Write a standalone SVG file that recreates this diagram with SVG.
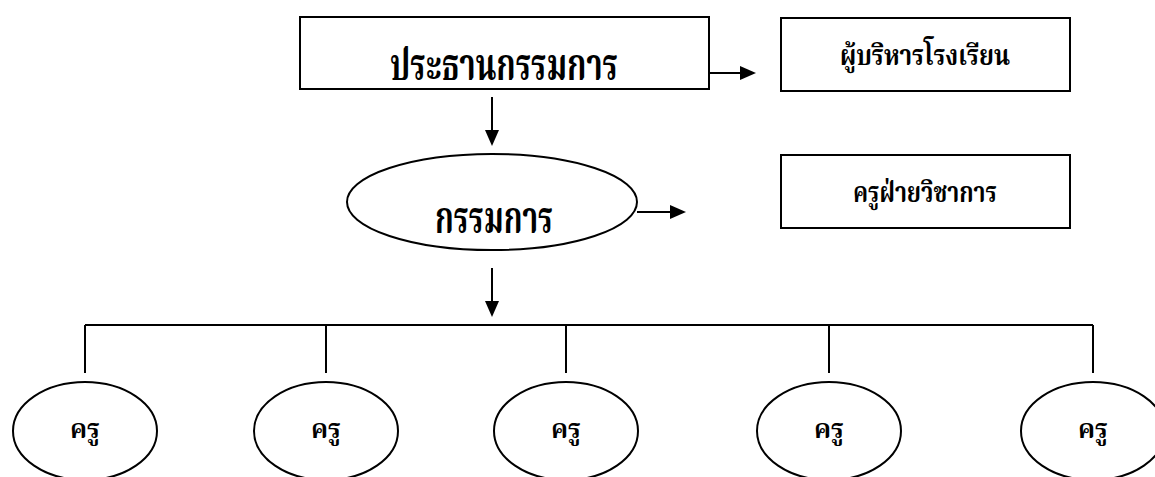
<svg xmlns="http://www.w3.org/2000/svg" width="1155" height="477" viewBox="0 0 1155 477">
<style>
.box{fill:#fff;stroke:#000;stroke-width:2}
.ell{fill:#fff;stroke:#000;stroke-width:2}
.ln{fill:none;stroke:#000;stroke-width:2}
.t{font-family:"Laksaman","Noto Serif Thai","Noto Sans Thai","Liberation Serif",serif;font-weight:bold;fill:#000;text-anchor:middle}
</style>
<defs>
<marker id="ah" viewBox="0 0 10 10" refX="10" refY="5" markerWidth="8" markerHeight="8" markerUnits="userSpaceOnUse" orient="auto">
<path d="M0,0 L10,5 L0,10 Z" fill="#000"/>
</marker>
</defs>
<rect width="1155" height="477" fill="#fff"/>
<g id="connectors">
<line class="ln" x1="709" y1="73" x2="740" y2="73"/>
<path d="M740,66 L756,73 L740,80 Z"/>
<line class="ln" x1="492" y1="97" x2="492" y2="130"/>
<path d="M485,130 L492,146 L499,130 Z"/>
<line class="ln" x1="637" y1="212" x2="670" y2="212"/>
<path d="M670,205 L686,212 L670,219 Z"/>
<line class="ln" x1="492" y1="268" x2="492" y2="301"/>
<path d="M485,301 L492,317 L499,301 Z"/>
<line class="ln" x1="85" y1="325" x2="1093" y2="325"/>
<line class="ln" x1="85" y1="325" x2="85" y2="373"/>
<line class="ln" x1="326" y1="325" x2="326" y2="373"/>
<line class="ln" x1="566" y1="325" x2="566" y2="373"/>
<line class="ln" x1="829" y1="325" x2="829" y2="373"/>
<line class="ln" x1="1093" y1="325" x2="1093" y2="373"/>
</g>
<g id="n-chair">
<rect class="box" x="300" y="17" width="409" height="72"/>
<text class="t" x="504" y="80" font-size="44" textLength="228" lengthAdjust="spacingAndGlyphs">ประธานกรรมการ</text>
</g>
<g id="n-admin">
<rect class="box" x="781" y="18" width="289" height="73"/>
<text class="t" x="925" y="65" font-size="28" textLength="170" lengthAdjust="spacingAndGlyphs">ผู้บริหารโรงเรียน</text>
</g>
<g id="n-committee">
<ellipse class="ell" cx="492" cy="202" rx="145" ry="48"/>
<text class="t" x="494" y="233" font-size="44" textLength="118" lengthAdjust="spacingAndGlyphs">กรรมการ</text>
</g>
<g id="n-academic">
<rect class="box" x="781" y="155" width="289" height="73"/>
<text class="t" x="925" y="202" font-size="28" textLength="144" lengthAdjust="spacingAndGlyphs">ครูฝ่ายวิชาการ</text>
</g>
<g id="n-t1">
<ellipse class="ell" cx="85" cy="431" rx="72" ry="49"/>
<text class="t" x="85" y="438" font-size="26" textLength="30" lengthAdjust="spacingAndGlyphs">ครู</text>
</g>
<g id="n-t2">
<ellipse class="ell" cx="326" cy="431" rx="72" ry="49"/>
<text class="t" x="326" y="438" font-size="26" textLength="30" lengthAdjust="spacingAndGlyphs">ครู</text>
</g>
<g id="n-t3">
<ellipse class="ell" cx="566" cy="431" rx="72" ry="49"/>
<text class="t" x="566" y="438" font-size="26" textLength="30" lengthAdjust="spacingAndGlyphs">ครู</text>
</g>
<g id="n-t4">
<ellipse class="ell" cx="829" cy="431" rx="72" ry="49"/>
<text class="t" x="829" y="438" font-size="26" textLength="30" lengthAdjust="spacingAndGlyphs">ครู</text>
</g>
<g id="n-t5">
<ellipse class="ell" cx="1093" cy="431" rx="72" ry="49"/>
<text class="t" x="1093" y="438" font-size="26" textLength="30" lengthAdjust="spacingAndGlyphs">ครู</text>
</g>
</svg>
